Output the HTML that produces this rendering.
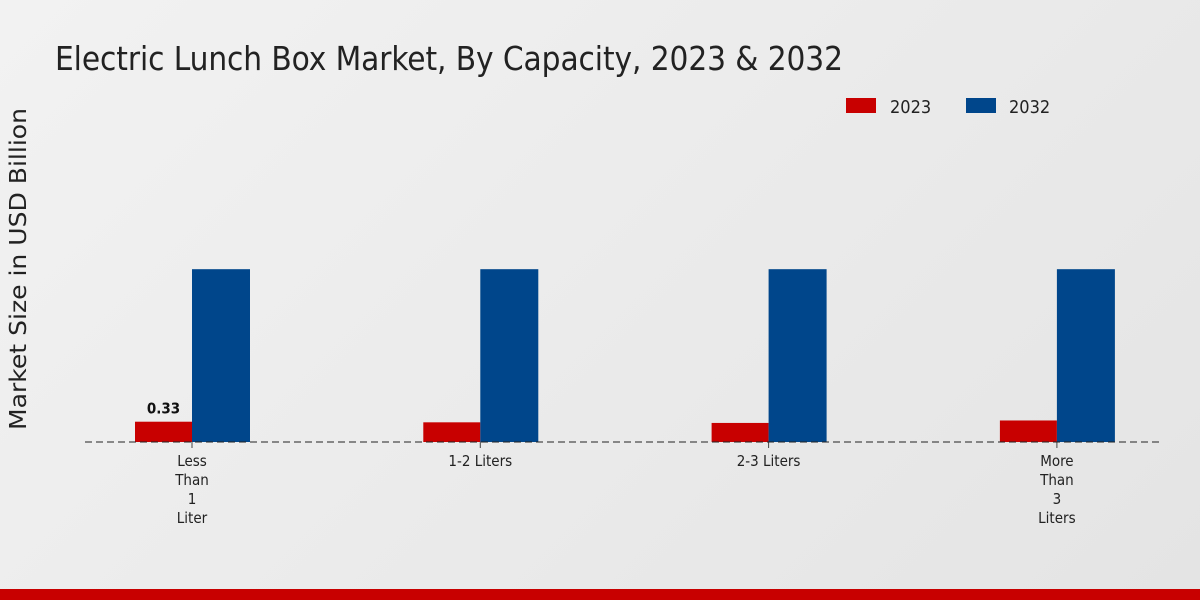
<!DOCTYPE html>
<html><head><meta charset="utf-8"><style>
body{margin:0;width:1200px;height:600px;overflow:hidden;background:linear-gradient(135deg,#f2f2f2,#e4e4e4);font-family:"DejaVu Sans Condensed","Liberation Sans",sans-serif;}
</style></head><body>
<svg width="1200" height="600" style="position:absolute;left:0;top:0">
<text x="55" y="70" font-size="33" fill="#222" font-family="DejaVu Sans Condensed, Liberation Sans, sans-serif" textLength="788">Electric Lunch Box Market, By Capacity, 2023 &amp; 2032</text>
<text transform="translate(26,269) rotate(-90)" text-anchor="middle" font-size="23" font-family="DejaVu Sans, sans-serif" fill="#222" textLength="322" lengthAdjust="spacingAndGlyphs">Market Size in USD Billion</text>
<g>
<rect x="846" y="98" width="30" height="15" fill="#c80000"/>
<text x="890" y="113" font-size="18" fill="#222">2023</text>
<rect x="966" y="98" width="30" height="15" fill="#00468b"/>
<text x="1009" y="113" font-size="18" fill="#222">2032</text>
</g>
<g id="plot"></g>
<rect x="0" y="589" width="1200" height="11" fill="#c80000"/>
</svg>
<script>
const categories=[["Less","Than","1","Liter"],["1-2 Liters"],["2-3 Liters"],["More","Than","3","Liters"]];
const values2023=[0.33,0.32,0.31,0.35];
const values2032=[2.81,2.81,2.81,2.81];
const labels2023=["0.33","","",""];
const baseY=442, pxPerUnit=61.5, x0=192, step=288.3, bw=57;
const y=v=>baseY-v*pxPerUnit;
const xc=i=>x0+i*step;
const NS="http://www.w3.org/2000/svg";
const g=document.getElementById('plot');
function mk(t,a){const e=document.createElementNS(NS,t);for(const k in a)e.setAttribute(k,a[k]);g.appendChild(e);return e;}
categories.forEach((c,i)=>{
  let r=mk('rect',{x:xc(i)-bw,y:y(values2023[i]),width:bw,height:values2023[i]*pxPerUnit,fill:'#c80000'});
  
  
  let b=mk('rect',{x:xc(i),y:y(values2032[i]),width:bw+1,height:values2032[i]*pxPerUnit,fill:'#00468b'});
  
  
  if(labels2023[i]){let t=mk('text',{x:xc(i)-bw/2,y:y(values2023[i])-8,'text-anchor':'middle','font-size':'15','font-weight':'bold',fill:'#111'});t.textContent=labels2023[i];
  
  }
  let tk=mk('line',{x1:xc(i),x2:xc(i),y1:baseY,y2:baseY+6,stroke:'#444'});
  
  
  c.forEach((ln,j)=>{let t=mk('text',{x:xc(i),y:466+j*19,'text-anchor':'middle','font-size':'15',fill:'#222'});t.textContent=ln;
  
  });
});
let ax=mk('line',{x1:85,x2:1163,y1:baseY,y2:baseY,stroke:'#222','stroke-dasharray':'7,4'});


</script>
</body></html>
